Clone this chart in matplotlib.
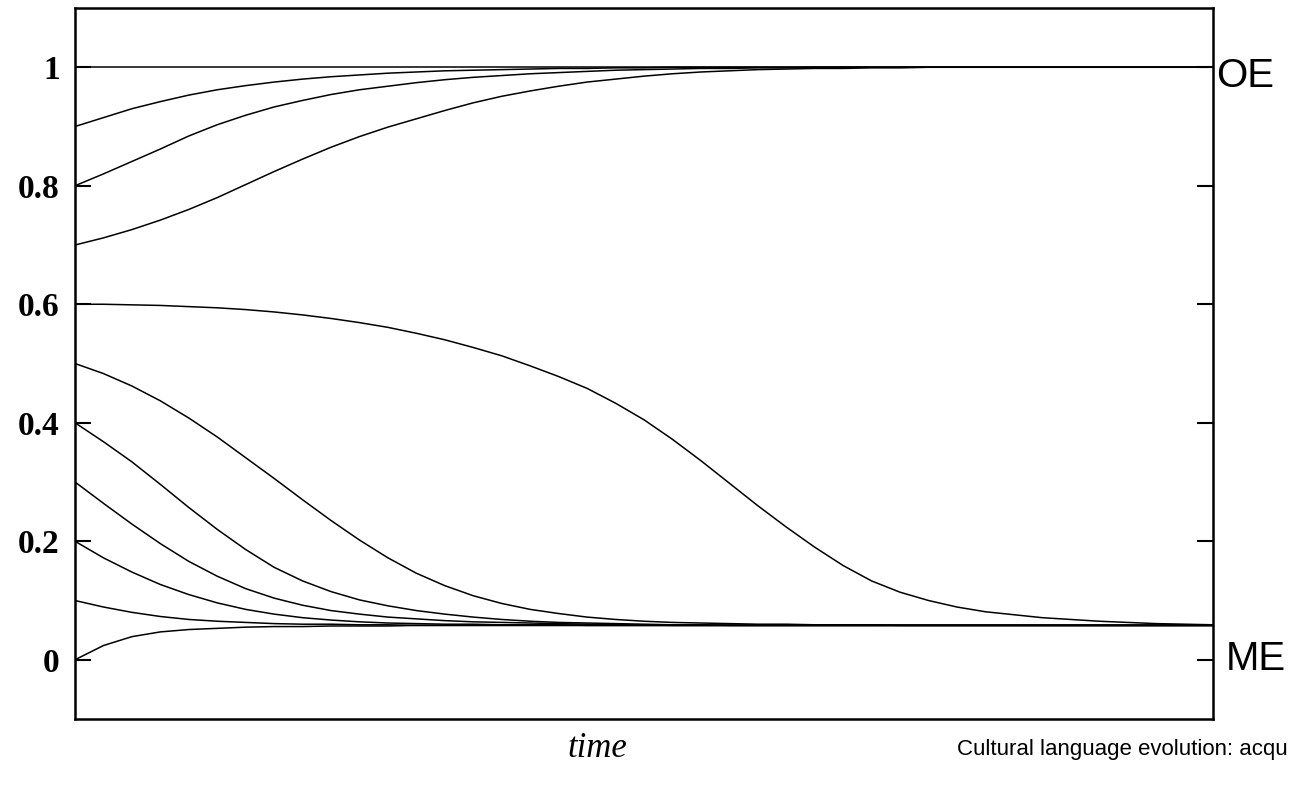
import matplotlib
matplotlib.use("Agg")
import matplotlib.pyplot as plt
import matplotlib.transforms as mtransforms

# time grid (arbitrary units, 0..100 across the panel)
time = [0, 2.5, 5, 7.5, 10, 12.5, 15, 17.5, 20, 22.5, 25, 27.5, 30, 32.5, 35, 37.5,
        40, 42.5, 45, 47.5, 50, 52.5, 55, 57.5, 60, 62.5, 65, 67.5, 70, 72.5, 75,
        77.5, 80, 85, 90, 95, 100]

# proportion of OE grammar, one trajectory per starting value
p_100 = [1.0] * 37
p_090 = [0.900, 0.915, 0.930, 0.942, 0.953, 0.962, 0.969, 0.975, 0.980, 0.984, 0.987,
         0.990, 0.992, 0.994, 0.995, 0.996, 0.997, 0.998, 0.998, 0.999, 0.999, 1.0,
         1.0, 1.0, 1.0, 1.0, 1.0, 1.0, 1.0, 1.0, 1.0, 1.0, 1.0, 1.0, 1.0, 1.0, 1.0]
p_080 = [0.800, 0.820, 0.841, 0.862, 0.884, 0.903, 0.919, 0.933, 0.944, 0.954, 0.962,
         0.968, 0.974, 0.979, 0.983, 0.986, 0.989, 0.991, 0.993, 0.995, 0.996, 0.997,
         0.998, 0.998, 0.999, 0.999, 1.0, 1.0, 1.0, 1.0, 1.0, 1.0, 1.0, 1.0, 1.0, 1.0, 1.0]
p_070 = [0.700, 0.712, 0.726, 0.742, 0.760, 0.780, 0.802, 0.824, 0.845, 0.865, 0.883,
         0.899, 0.913, 0.927, 0.940, 0.951, 0.960, 0.968, 0.975, 0.980, 0.985, 0.989,
         0.992, 0.994, 0.996, 0.997, 0.998, 0.998, 0.999, 0.999, 1.0, 1.0, 1.0, 1.0,
         1.0, 1.0, 1.0]
p_060 = [0.600, 0.600, 0.599, 0.598, 0.596, 0.594, 0.591, 0.587, 0.582, 0.576, 0.569,
         0.561, 0.551, 0.540, 0.527, 0.513, 0.496, 0.478, 0.458, 0.433, 0.405, 0.372,
         0.336, 0.298, 0.260, 0.224, 0.190, 0.159, 0.133, 0.114, 0.100, 0.089, 0.081,
         0.071, 0.065, 0.061, 0.059]
p_050 = [0.500, 0.483, 0.462, 0.437, 0.408, 0.376, 0.341, 0.306, 0.270, 0.235, 0.202,
         0.172, 0.146, 0.125, 0.108, 0.095, 0.085, 0.078, 0.072, 0.068, 0.065, 0.063,
         0.062, 0.061, 0.060, 0.060, 0.059, 0.059, 0.059, 0.058, 0.058, 0.058, 0.058,
         0.058, 0.058, 0.058, 0.058]
p_040 = [0.400, 0.368, 0.334, 0.296, 0.257, 0.220, 0.186, 0.156, 0.133, 0.115, 0.101,
         0.091, 0.083, 0.077, 0.072, 0.068, 0.065, 0.063, 0.062, 0.061, 0.060, 0.059,
         0.059, 0.058, 0.058, 0.058, 0.058, 0.058, 0.058, 0.058, 0.058, 0.058, 0.058,
         0.058, 0.058, 0.058, 0.058]
p_030 = [0.300, 0.264, 0.229, 0.196, 0.166, 0.141, 0.120, 0.104, 0.092, 0.083, 0.077,
         0.072, 0.069, 0.066, 0.064, 0.063, 0.062, 0.061, 0.060, 0.059, 0.059, 0.058,
         0.058, 0.058, 0.058, 0.058, 0.058, 0.058, 0.058, 0.058, 0.058, 0.058, 0.058,
         0.058, 0.058, 0.058, 0.058]
p_020 = [0.200, 0.172, 0.148, 0.127, 0.110, 0.096, 0.085, 0.077, 0.071, 0.067, 0.064,
         0.062, 0.061, 0.060, 0.060, 0.059, 0.059, 0.059, 0.058, 0.058, 0.058, 0.058,
         0.058, 0.058, 0.058, 0.058, 0.058, 0.058, 0.058, 0.058, 0.058, 0.058, 0.058,
         0.058, 0.058, 0.058, 0.058]
p_010 = [0.100, 0.089, 0.080, 0.073, 0.068, 0.065, 0.063, 0.061, 0.060, 0.060, 0.059,
         0.059, 0.058, 0.058, 0.058, 0.058, 0.058, 0.058, 0.058, 0.058, 0.058, 0.058,
         0.058, 0.058, 0.058, 0.058, 0.058, 0.058, 0.058, 0.058, 0.058, 0.058, 0.058,
         0.058, 0.058, 0.058, 0.058]
p_000 = [0.000, 0.024, 0.039, 0.047, 0.051, 0.053, 0.055, 0.056, 0.056, 0.057, 0.057,
         0.057, 0.058, 0.058, 0.058, 0.058, 0.058, 0.058, 0.058, 0.058, 0.058, 0.058,
         0.058, 0.058, 0.058, 0.058, 0.058, 0.058, 0.058, 0.058, 0.058, 0.058, 0.058,
         0.058, 0.058, 0.058, 0.058]

trajectories = [p_100, p_090, p_080, p_070, p_060, p_050, p_040, p_030, p_020, p_010, p_000]

y_ticks = [0, 0.2, 0.4, 0.6, 0.8, 1]
y_tick_labels = ["0", "0.2", "0.4", "0.6", "0.8", "1"]
end_labels = ["OE", "ME"]
x_label = "time"
caption = "Cultural language evolution: acqu"


fig = plt.figure(figsize=(12.89, 7.88), dpi=100)
ax = fig.add_axes([75 / 1289, 1 - 719 / 788, 1138 / 1289, 711 / 788])

for traj in trajectories:
    ax.plot(time, traj, color="black", lw=1.1, solid_joinstyle="round")

ax.set_xlim(time[0], time[-1])
ax.set_ylim(-0.1, 1.1)
ax.set_xticks([])
ax.set_yticks(y_ticks)
ax.set_yticklabels(y_tick_labels, fontfamily="Liberation Serif", fontweight="bold", fontsize=24)
ax.tick_params(axis="y", direction="in", length=11.5, width=1.5, pad=11,
               left=True, right=True, labelleft=True, labelright=False)
for side in ax.spines.values():
    side.set_linewidth(1.8)

# end-state labels at the right of the panel
trans = mtransforms.blended_transform_factory(ax.transAxes, ax.transData)
ax.text(1.0025, 0.966, end_labels[0], transform=trans, fontsize=29,
        fontfamily="Liberation Sans", ha="left", va="baseline", clip_on=False)
ax.text(1.011, -0.018, end_labels[1], transform=trans, fontsize=29,
        fontfamily="Liberation Sans", ha="left", va="baseline", clip_on=False)

fig.text(597 / 1289, 1 - 757 / 788, x_label, fontsize=25, fontfamily="Liberation Serif",
         fontstyle="italic", ha="center", va="baseline")
fig.text(1288 / 1289, 1 - 755 / 788, caption, fontsize=16.0, fontfamily="Liberation Sans",
         ha="right", va="baseline")

fig.savefig("out.png", dpi=100)
